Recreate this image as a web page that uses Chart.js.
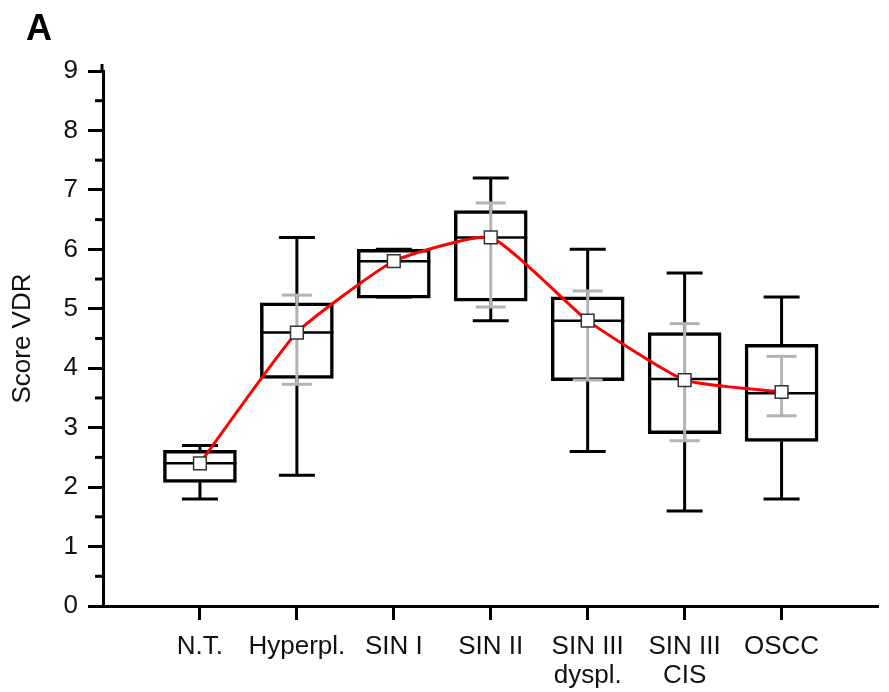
<!DOCTYPE html>
<html>
<head>
<meta charset="utf-8">
<script src="https://cdn.jsdelivr.net/npm/chart.js@4.4.0/dist/chart.umd.min.js"></script>
<style>
  body { margin: 0; background: #fff; }
  #chart { display: block; }
</style>
</head>
<body>
<canvas id="chart" width="889" height="692"></canvas>
<script>
// groups on the x axis
const categories = ['N.T.', 'Hyperpl.', 'SIN I', 'SIN II', ['SIN III', 'dyspl.'], ['SIN III', 'CIS'], 'OSCC'];

// box plot values
const whiskerMin = [1.8, 2.2, 5.2, 4.8, 2.6, 1.6, 1.8];
const q1 = [2.08, 3.83, 5.18, 5.13, 3.79, 2.9, 2.77];
const median = [2.4, 4.6, 5.8, 6.2, 4.8, 3.82, 3.58];
const q3 = [2.62, 5.1, 6.0, 6.65, 5.2, 4.6, 4.4];
const whiskerMax = [2.7, 6.2, 6.0, 7.2, 6.0, 5.6, 5.2];

// mean and mean +/- SD (grey bars)
const means = [2.4, 4.6, 5.8, 6.2, 4.8, 3.8, 3.6];
const sdLow = [null, 3.73, null, 5.03, 3.8, 2.78, 3.2];
const sdHigh = [null, 5.23, null, 6.78, 5.3, 4.75, 4.2];

const yTicks = [0, 1, 2, 3, 4, 5, 6, 7, 8, 9];
const yMinorTicks = [0.5, 1.5, 2.5, 3.5, 4.5, 5.5, 6.5, 7.5, 8.5];

const FONT = '"Liberation Sans", Arial, sans-serif';

function strokeLine(ctx, x1, y1, x2, y2) {
    ctx.beginPath();
    ctx.moveTo(x1, y1);
    ctx.lineTo(x2, y2);
    ctx.stroke();
}

// whiskers, medians and SD bars drawn right after the boxes
const boxExtras = {
    id: 'boxExtras',
    afterDatasetDraw(chart, args) {
        if (args.index !== 0) return;
        const ctx = chart.ctx;
        const x = chart.scales.x;
        const y = chart.scales.y;
        const boxes = chart.getDatasetMeta(0).data;
        ctx.save();
        ctx.lineCap = 'butt';
        categories.forEach((c, i) => {
            const cx = x.getPixelForValue(i);
            const half = boxes[i].width / 2;

            ctx.strokeStyle = '#000';
            ctx.lineWidth = 3;
            // whiskers + caps
            strokeLine(ctx, cx, y.getPixelForValue(q3[i]), cx, y.getPixelForValue(whiskerMax[i]));
            strokeLine(ctx, cx, y.getPixelForValue(q1[i]), cx, y.getPixelForValue(whiskerMin[i]));
            strokeLine(ctx, cx - 18, y.getPixelForValue(whiskerMax[i]), cx + 18, y.getPixelForValue(whiskerMax[i]));
            strokeLine(ctx, cx - 18, y.getPixelForValue(whiskerMin[i]), cx + 18, y.getPixelForValue(whiskerMin[i]));

            // median
            ctx.lineWidth = 2.5;
            strokeLine(ctx, cx - half, y.getPixelForValue(median[i]), cx + half, y.getPixelForValue(median[i]));

            // mean +/- SD
            if (sdLow[i] !== null) {
                ctx.strokeStyle = '#b3b3b3';
                ctx.lineWidth = 3;
                const lo = y.getPixelForValue(sdLow[i]);
                const hi = y.getPixelForValue(sdHigh[i]);
                strokeLine(ctx, cx, lo, cx, hi);
                strokeLine(ctx, cx - 15, lo, cx + 15, lo);
                strokeLine(ctx, cx - 15, hi, cx + 15, hi);
            }
        });
        ctx.restore();
    }
};

// short minor ticks, axis overhang at the top and the panel letter
const axisExtras = {
    id: 'axisExtras',
    afterDraw(chart) {
        const ctx = chart.ctx;
        const y = chart.scales.y;
        const area = chart.chartArea;
        ctx.save();
        ctx.strokeStyle = '#000';
        ctx.lineWidth = 3;
        yMinorTicks.forEach(v => {
            const py = y.getPixelForValue(v);
            strokeLine(ctx, area.left - 8, py, area.left, py);
        });
        const axisX = Math.round(y.right - 1.5);
        strokeLine(ctx, axisX, area.top, axisX, area.top - 7);
        ctx.fillStyle = '#000';
        ctx.font = 'bold 36px ' + FONT;
        ctx.textBaseline = 'alphabetic';
        ctx.fillText('A', 26, 40);
        ctx.restore();
    }
};

const ctx = document.getElementById('chart').getContext('2d');
new Chart(ctx, {
    type: 'bar',
    data: {
        datasets: [
            {
                type: 'bar',
                data: categories.map((c, i) => ({ x: i, y: [q1[i], q3[i]] })),
                backgroundColor: '#ffffff',
                borderColor: '#000000',
                borderWidth: 3.5,
                borderSkipped: false,
                barThickness: 73,
                order: 1
            },
            {
                type: 'line',
                data: categories.map((c, i) => ({ x: i, y: means[i] })),
                borderColor: '#ff0000',
                borderWidth: 3,
                tension: 0.15,
                pointStyle: 'rect',
                pointRadius: 9,
                pointBackgroundColor: '#ffffff',
                pointBorderColor: '#333333',
                pointBorderWidth: 1.5,
                order: 0
            }
        ]
    },
    options: {
        responsive: false,
        animation: false,
        layout: { padding: { top: 71, right: 3, left: 0, bottom: 0 } },
        plugins: {
            legend: { display: false },
            tooltip: { enabled: false }
        },
        scales: {
            x: {
                type: 'linear',
                min: -1,
                max: 7,
                offset: false,
                afterBuildTicks: scale => {
                    scale.ticks = categories.map((c, i) => ({ value: i }));
                },
                afterFit: scale => { scale.height = 86; },
                ticks: {
                    autoSkip: false,
                    maxRotation: 0,
                    padding: 12,
                    color: '#111',
                    font: { family: FONT, size: 26, lineHeight: 1.12 },
                    callback: v => categories[v]
                },
                grid: {
                    drawOnChartArea: false,
                    offset: false,
                    tickLength: 14,
                    tickWidth: 3,
                    tickColor: '#000'
                },
                border: { color: '#000', width: 3 }
            },
            y: {
                min: 0,
                max: 9,
                afterBuildTicks: scale => {
                    scale.ticks = yTicks.map(v => ({ value: v }));
                },
                afterFit: scale => { scale.width = 103; },
                ticks: {
                    padding: 10,
                    color: '#111',
                    font: { family: FONT, size: 26 }
                },
                grid: {
                    drawOnChartArea: false,
                    tickLength: 15,
                    tickWidth: 3,
                    tickColor: '#000'
                },
                border: { color: '#000', width: 3 },
                title: {
                    display: true,
                    text: 'Score VDR',
                    color: '#111',
                    padding: { top: 7, bottom: 0 },
                    font: { family: FONT, size: 26 }
                }
            }
        }
    },
    plugins: [boxExtras, axisExtras]
});
</script>
</body>
</html>
